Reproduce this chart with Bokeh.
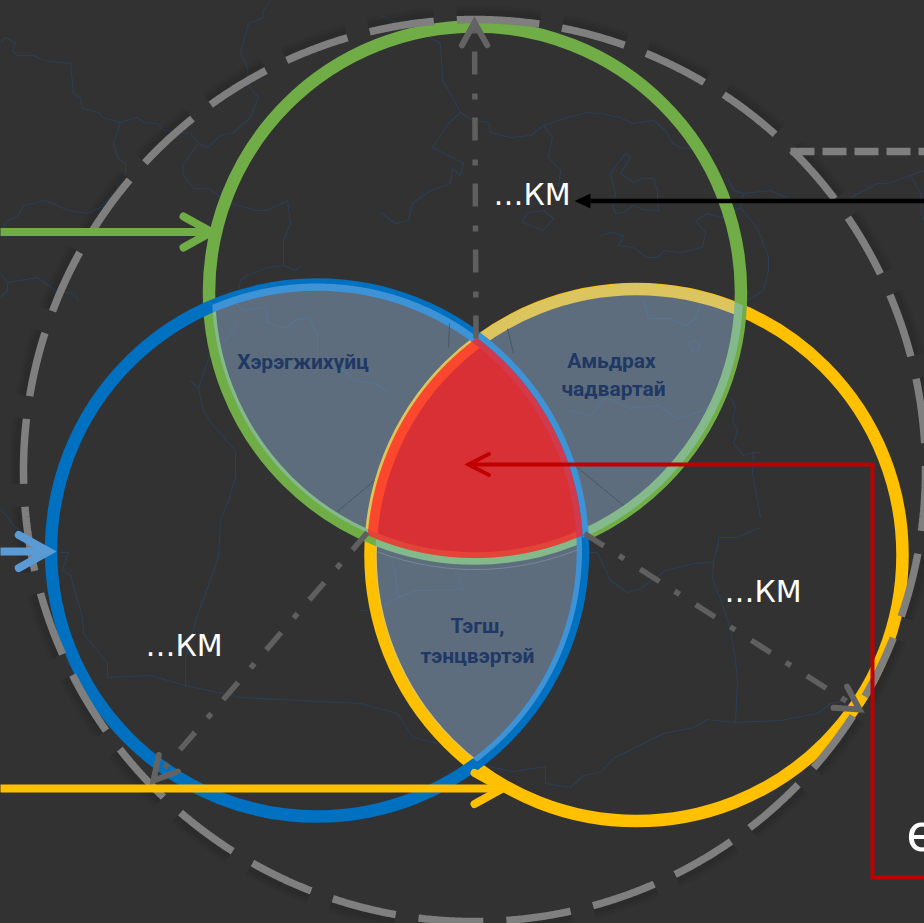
import numpy as np
from bokeh.plotting import figure
from bokeh.models import Range1d
from bokeh.core.properties import value
from bokeh.embed import file_html
from bokeh.resources import INLINE

BG = "#323232"
# circles: centre x, centre y, radius
green_c = (474.5, 292.0, 266.0)
blue_c = (316.5, 550.0, 266.0)
yellow_c = (636.0, 554.5, 266.0)
outer_c = (474.0, 470.0, 451.0)

km_labels = ["…КМ", "…КМ", "…КМ"]
km_x = [493, 724, 145]
km_y = [194, 591, 645]
zone_labels = ["Хэрэгжихүйц", "Амьдрах", "чадвартай", "Тэгш,", "тэнцвэртэй"]
zone_x = [302.5, 611, 613, 477, 477]
zone_y = [361, 360, 388, 625, 655]

borders = [
    [(0,42),(5,37),(15,42),(12,50),(17,55),(33,55),(43,60),(70,63),(73,93),(80,98),(82,108),(98,112),(102,117),(120,122),(137,117),(143,122),(157,123),(163,130),(190,133),(198,143),(207,147),(220,135),(233,132),(250,117),(258,97),(248,85),(247,67),(240,53),(248,23),(262,18),(263,10),(270,0)],
    [(120,122),(113,143),(117,157),(125,163),(125,173),(117,182),(117,190),(100,207),(87,213),(68,210),(45,200),(23,205),(18,215),(7,220),(0,230)],
    [(198,143),(182,165),(183,175),(193,188),(208,188),(230,203),(257,210),(267,210),(287,200),(290,223),(283,240),(283,265),(267,267),(247,275),(240,280),(235,303),(243,310),(265,307),(267,322),(285,328),(295,320),(308,317),(317,335),(317,357),(333,360),(353,380),(373,382),(390,393)],
    [(283,265),(295,270),(300,266)],
    [(0,273),(7,282),(37,277),(55,290),(73,293),(78,300)],
    [(7,282),(7,290),(0,297)],
    [(223,342),(237,323)],
    [(210,353),(198,388),(203,410),(213,425),(235,450),(235,477),(228,500),(220,520),(218,557),(197,615),(185,657),(185,685)],
    [(190,380),(198,388)],
    [(0,508),(13,525),(20,530)],
    [(60,552),(68,552),(62,570),(70,575),(82,617),(83,633),(107,663),(107,677),(150,675),(185,685),(240,697),(360,703),(397,713),(413,737),(437,743)],
    [(487,766),(513,771),(545,766),(545,783),(570,787),(583,775),(600,772),(613,758),(663,733),(693,727),(707,719),(735,722),(780,720),(817,713),(830,703),(847,700)],
    [(735,722),(737,680),(735,660),(730,630),(723,607),(712,578),(713,562),(718,540),(717,550),(718,537),(737,537),(752,530),(760,527)],
    [(713,562),(693,563),(665,570),(640,588),(627,592),(610,580),(597,552),(580,552)],
    [(730,397),(735,407),(732,420),(737,430),(733,443),(743,455),(753,452),(760,452)],
    [(753,452),(752,473),(760,517)],
    [(600,113),(620,117),(632,123),(653,120),(665,130),(672,143),(680,147),(712,150)],
    [(625,153),(630,157),(620,173),(633,182),(642,178),(653,178),(657,190),(657,203),(658,210),(642,209),(633,205),(623,212),(615,213),(612,205),(615,193),(610,173),(625,153)],
    [(600,235),(610,232),(623,235),(618,245),(632,247),(647,257),(657,257),(663,250),(680,252),(702,247),(705,232),(695,220),(707,213),(720,217),(740,207)],
    [(727,177),(733,190),(743,193),(770,190),(787,197)],
    [(743,193),(740,207),(758,230),(768,257),(768,270),(763,290),(747,300)],
    [(850,197),(877,183),(887,183),(910,175),(924,170)],
    [(910,175),(920,193),(922,217),(924,220)],
    [(643,298),(648,318),(670,318),(685,325),(695,318),(700,303)],
    [(688,342),(697,340),(699,348),(692,351),(688,342)],
    [(570,410),(590,415),(605,397),(630,408),(657,405),(677,418),(703,410),(710,403)],
    [(380,15),(430,37),(440,43),(442,80),(452,97),(460,112),(472,120),(488,122),(490,132),(510,137),(530,135),(543,125),(567,117),(587,112),(600,113)],
    [(460,112),(448,123),(432,147),(463,163),(460,175),(452,168),(450,183),(430,190),(412,203),(408,220),(395,223),(380,212)],
    [(543,125),(552,137),(548,157),(560,170),(558,187)],
    [(522,222),(527,212),(543,210),(553,218),(543,230),(522,222)],
    [(392,558),(398,597),(383,605)],
    [(398,597),(415,590),(463,589),(458,580),(468,568)],
    [(360,610),(370,610)],
]
hairlines = [[(337,511),(374,480)], [(577,467),(623,505)], [(449,323),(448,347)], [(507,328),(513,353)]]

# arrows: start, tip, colour, shaft width, arm length
arrow_green = ((-6, 231.5), (211, 231.5), "#70ad47", 8, 32)
arrow_blue = ((-6, 551), (48, 551), "#5b9bd5", 8, 34)
arrow_yellow = ((-6, 788), (502, 788), "#ffc000", 8, 32)
dash_up = ((475.5, 338), (474, 22))
dash_left = ((367, 532), (153, 780))
dash_right = ((584, 533), (859, 709))
red_path_x = [930, 872, 872, 468]
red_path_y = [877, 877, 464, 464]
black_arrow_x = [930, 590]
black_arrow_y = [200.5, 200.5]
callout_x = [790, 930]
callout_y = [151, 151]


def region(origin, clips, cuts, n=1800):
    th = np.linspace(0, 2 * np.pi, n, endpoint=False)
    dx, dy = np.cos(th), np.sin(th)
    t = np.full(n, 1e6)
    for cx, cy, r in clips:
        ox, oy = origin[0] - cx, origin[1] - cy
        b = ox * dx + oy * dy
        t = np.minimum(t, -b + np.sqrt(b * b - (ox * ox + oy * oy - r * r)))
    for cx, cy, r in cuts:
        ox, oy = origin[0] - cx, origin[1] - cy
        b = ox * dx + oy * dy
        disc = b * b - (ox * ox + oy * oy - r * r)
        hit = -b - np.sqrt(np.where(disc > 0, disc, 0))
        t = np.where((disc > 0) & (hit > 0), np.minimum(t, hit), t)
    return origin[0] + t * dx, origin[1] + t * dy


def grow(c, d):
    return (c[0], c[1], c[2] + d)


def chevron(start, tip, arm, half_deg=29):
    a = np.arctan2(start[1] - tip[1], start[0] - tip[0])
    h = np.radians(half_deg)
    return ([tip[0] + arm * np.cos(a + h), tip[0], tip[0] + arm * np.cos(a - h)],
            [tip[1] + arm * np.sin(a + h), tip[1], tip[1] + arm * np.sin(a - h)])


def ring(c, d=0.0):
    th = np.linspace(0, 2 * np.pi, 1500)
    return c[0] + (c[2] + d) * np.sin(th), c[1] - (c[2] + d) * np.cos(th)


p = figure(width=924, height=923, x_range=Range1d(0, 924), y_range=Range1d(923, 0),
           x_axis_location=None, y_axis_location=None,
           output_backend="svg", toolbar_location=None, min_border=0,
           background_fill_color=BG, border_fill_color=BG, outline_line_color=None)
p.grid.visible = False

p.multi_line([[q[0] for q in b] for b in borders], [[q[1] for q in b] for b in borders],
             line_color="#29405a", line_width=1.1, line_alpha=0.9)

# coloured rings, yellow below green below blue
for c, col in ((yellow_c, "#ffc000"), (green_c, "#70ad47"), (blue_c, "#0070c0")):
    p.circle(x=[c[0]], y=[c[1]], radius=c[2], fill_color=None, line_color=col, line_width=12.5)

# pairwise zones
LENS, LENS_A = "#a4cdfb", 0.38
zones = [
    ((300, 400), [grow(green_c, -3), grow(blue_c, 1)], [grow(yellow_c, 3.5)]),
    ((640, 400), [grow(green_c, 2), grow(yellow_c, 5.5)], [blue_c]),
    ((475, 660), [grow(blue_c, -1), grow(yellow_c, -5)], [grow(green_c, -0.5)]),
]
for o, clips, cuts in zones:
    x, y = region(o, clips, cuts)
    p.patch(x, y, fill_color=LENS, fill_alpha=LENS_A, line_color=None)

# triple zone
x, y = region((475, 480), [grow(green_c, -0.5), blue_c, grow(yellow_c, 3.5)], [])
p.patch(x, y, fill_color="#f93037", fill_alpha=0.84, line_color=None)

# hairlines
p.multi_line([[q[0] for q in b] for b in hairlines], [[q[1] for q in b] for b in hairlines],
             line_color="#3c4248", line_width=1, line_alpha=0.55)
ax = np.linspace(378, 578, 80)
ay = green_c[1] + np.sqrt((green_c[2] + 11) ** 2 - (ax - green_c[0]) ** 2)
p.line(ax, ay, line_color="#8592a0", line_width=1, line_alpha=0.7)

# soft outward shadow of the outer ring
sx, sy = ring(outer_c, 5.1)
for w, a in ((18, 0.03), (13, 0.04), (8, 0.05)):
    p.line(sx, sy, line_color="#000000", line_alpha=a, line_width=w, line_dash="66 23")

# outer dashed ring and callout
ox, oy = ring(outer_c)
p.line(ox, oy, line_color="#7f7f7f", line_width=7.5, line_dash="65 23")
p.line(callout_x, callout_y, line_color="#7f7f7f", line_width=7.5, line_dash="24 8")

# dash-dot radii
for s, t in (dash_up, dash_left, dash_right):
    p.line([s[0], t[0]], [s[1], t[1]], line_color="#5f5f5f", line_width=5.5, line_dash="23 18 6 19")
    cx, cy = chevron(s, t, 26)
    p.line(cx, cy, line_color="#636363", line_width=6, line_cap="round", line_join="miter")

# arrows
for s, t, col, w, arm in (arrow_blue, arrow_green, arrow_yellow):
    p.line([s[0], t[0]], [s[1], t[1]], line_color=col, line_width=w)
    cx, cy = chevron(s, t, arm)
    p.line(cx, cy, line_color=col, line_width=w, line_cap="round", line_join="miter")

p.line(black_arrow_x, black_arrow_y, line_color="#000000", line_width=4.5)
p.patch([black_arrow_x[1], black_arrow_x[1] - 16, black_arrow_x[1]],
        [black_arrow_y[1] - 7.5, black_arrow_y[1], black_arrow_y[1] + 7.5],
        fill_color="#000000", line_color=None)

p.line(red_path_x, red_path_y, line_color="#c00000", line_width=4, line_join="miter")
rx, ry = chevron((red_path_x[-2], red_path_y[-2]), (red_path_x[-1], red_path_y[-1]), 23, 27)
p.line(rx, ry, line_color="#c00000", line_width=4, line_cap="round", line_join="miter")

p.text(km_x, km_y, km_labels, text_color="#ffffff", text_font=value("DejaVu Sans"),
       text_font_size="30px", text_baseline="alphabetic", text_align="left")
p.text(zone_x, zone_y, zone_labels, text_color="#1f3864", text_font=value("Roboto"),
       text_font_style="bold", text_font_size="21px", text_baseline="alphabetic", text_align="center")
p.text([906], [832], ["ө"], text_color="#ffffff", text_font=value("Roboto"),
       text_font_size="54px", text_baseline="alphabetic", text_align="left")

html = file_html(p, INLINE)
html = html.replace("<head>", "<head><style>html,body{margin:0;padding:0;background:#323232;overflow:hidden}</style>", 1)
open("out.html", "w").write(html)
